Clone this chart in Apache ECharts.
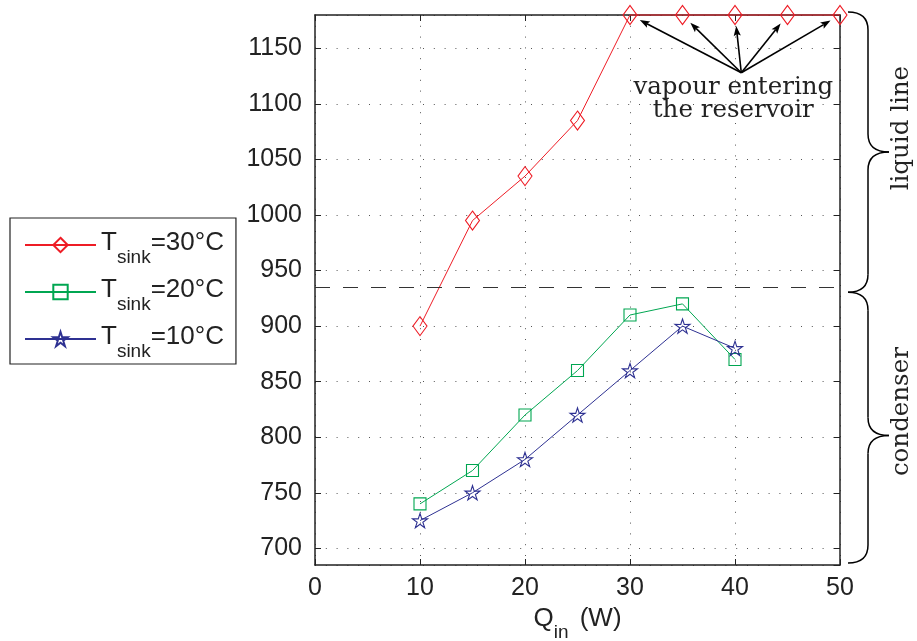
<!DOCTYPE html>
<html><head><meta charset="utf-8">
<script src="https://cdn.jsdelivr.net/npm/echarts@6/dist/echarts.min.js"></script>
<style>html,body{margin:0;padding:0;background:#fff}#c{width:917px;height:641px}</style>
</head><body><div id="c"></div>
<script>
// ---- data ----
const qIn = [10, 15, 20, 25, 30, 35, 40, 45, 50];
const tSink30 = [900, 995, 1035, 1085, 1180, 1180, 1180, 1180, 1180];
const tSink20 = [740, 770, 820, 860, 910, 920, 870];
const tSink10 = [725, 750, 780, 820, 860, 900, 880];
const seriesNames = ['Tsink=30°C', 'Tsink=20°C', 'Tsink=10°C'];
const legendTemps = ['30', '20', '10'];
const xRange = [0, 50];
const yRange = [685, 1180];
const dividerLevel = 935;
const vapourQ = [30, 35, 40, 45, 50];
const arrowSource = [40.6, 1128];
const annotationLines = ['vapour entering', 'the reservoir'];
const braceLabels = ['liquid line', 'condenser'];

const SANS = 'Liberation Sans';
const SERIF = 'DejaVu Serif';
const INK = '#222';
const RED = '#ee1c25', GREEN = '#00a651', BLUE = '#2e3192';
const STAR = 'path://M50 0 L61.17 34.63 L97.55 34.55 L68.07 55.87 L79.39 90.45 L50 69 L20.61 90.45 L31.93 55.87 L2.45 34.55 L38.83 34.63 Z';

const pairs = (ys) => ys.map((y, i) => [qIn[i], y]);
const tempOf = {};
seriesNames.forEach((n, i) => tempOf[n] = legendTemps[i]);

const richT = {
  t: { fontFamily: SANS, fontSize: 26, lineHeight: 30, verticalAlign: 'top', color: INK },
  s: { fontFamily: SANS, fontSize: 19, lineHeight: 22, padding: [18, 0, 0, 0], verticalAlign: 'top', color: INK }
};
const richQ = {
  t: { fontFamily: SANS, fontSize: 26, lineHeight: 30, verticalAlign: 'top', color: INK },
  s: { fontFamily: SANS, fontSize: 19, lineHeight: 22, padding: [17, 4, 0, 0], verticalAlign: 'top', color: INK }
};

const axisLine = { show: true, onZero: false, lineStyle: { color: INK, width: 1.5 } };
const axisTick = { show: true, inside: true, length: 6, lineStyle: { color: INK, width: 1 } };
const grid = { show: true, lineStyle: { color: '#555', width: 1, type: [1, 9.8] } };
const lbl = { fontFamily: SANS, fontSize: 25, color: INK, formatter: (v) => String(v) };

const chart = echarts.init(document.getElementById('c'), null, { renderer: 'canvas' });
const mk = (name, data, color, symbol, size) => ({
  name, type: 'line', data, xAxisIndex: 0, yAxisIndex: 0, clip: false,
  symbol, symbolSize: size, symbolKeepAspect: true,
  lineStyle: { color, width: 1 },
  itemStyle: { color: 'rgba(255,255,255,0)', borderColor: color, borderWidth: 1.1 },
  emphasis: { disabled: true }, animation: false, z: 3
});

chart.setOption({
  animation: false,
  grid: { left: 315, right: 77, top: 15, bottom: 76, containLabel: false, outerBoundsMode: 'none' },
  xAxis: [
    { type: 'value', min: xRange[0], max: xRange[1], interval: 10, position: 'bottom',
      axisLine, axisTick, splitLine: grid, axisLabel: { ...lbl, margin: 11 },
      name: '{t|Q}{s|in}{t| (W)}', nameLocation: 'middle', nameGap: 40,
      nameTextStyle: { rich: richQ } },
    { type: 'value', min: xRange[0], max: xRange[1], interval: 10, position: 'top',
      axisLine, axisTick, splitLine: { show: false }, axisLabel: { show: false } }
  ],
  yAxis: [
    { type: 'value', min: yRange[0], max: yRange[1], splitNumber: 10, position: 'left',
      axisLine, axisTick, splitLine: grid,
      axisLabel: { ...lbl, margin: 13, showMinLabel: false, showMaxLabel: false } },
    { type: 'value', min: yRange[0], max: yRange[1], splitNumber: 10, position: 'right',
      axisLine, axisTick, splitLine: { show: false }, axisLabel: { show: false } }
  ],
  legend: {
    orient: 'vertical', left: 10, top: 218, padding: [12, 12, 3, 14], itemGap: 10,
    itemWidth: 71, itemHeight: 18, backgroundColor: '#fff',
    borderColor: INK, borderWidth: 1.2, borderRadius: 0,
    data: seriesNames,
    formatter: (n) => `{t|T}{s|sink}{t|=${tempOf[n]}°C}`,
    textStyle: { rich: richT }
  },
  series: [
    { ...mk(seriesNames[0], pairs(tSink30), RED, 'diamond', [14, 19]),
      markLine: { silent: true, symbol: 'none', animation: false,
        label: { show: false },
        lineStyle: { color: '#333', width: 1, type: [15, 13] },
        data: [{ yAxis: dividerLevel }] } },
    mk(seriesNames[1], pairs(tSink20), GREEN, 'rect', 12),
    mk(seriesNames[2], pairs(tSink10), BLUE, STAR, 15)
  ]
});

// ---- annotations from axis scales ----
const px = (v) => chart.convertToPixel({ seriesIndex: 0 }, v);
const g = [];
const src = px(arrowSource);
vapourQ.forEach((q) => {
  const p = px([q, yRange[1]]);
  const dx = src[0] - p[0], dy = src[1] - p[1], L = Math.hypot(dx, dy);
  const ux = dx / L, uy = dy / L, nx = -uy, ny = ux;
  const tip = [p[0] + ux * 11, p[1] + uy * 11];
  const base = [tip[0] + ux * 10, tip[1] + uy * 10];
  g.push({ type: 'line', shape: { x1: src[0], y1: src[1], x2: base[0] - ux * 2, y2: base[1] - uy * 2 },
    style: { stroke: '#000', lineWidth: 1.6 }, z: 10 });
  g.push({ type: 'polygon', shape: { points: [tip, [base[0] + nx * 3.6, base[1] + ny * 3.6], [base[0] - ux * 2, base[1] - uy * 2], [base[0] - nx * 3.6, base[1] - ny * 3.6]] },
    style: { fill: '#000' }, z: 10 });
});
annotationLines.forEach((t, i) => {
  g.push({ type: 'text', x: src[0] - 8, y: src[1] + 15 + i * 23,
    style: { text: t, font: `24.5px "${SERIF}"`, fill: INK, align: 'center', verticalAlign: 'middle' }, z: 10 });
});

function braceParts(xl, y0, y1, ym) {
  const xv = xl + 20, xt = xl + 41, r = 18;
  const st = { stroke: '#000', fill: null, lineWidth: 1.5 };
  const q = (x1, y1, cx, cy, x2, y2) => ({ type: 'bezierCurve', shape: { x1, y1, x2, y2, cpx1: cx, cpy1: cy }, style: st, z: 10 });
  const l = (x1, y1, x2, y2) => ({ type: 'line', shape: { x1, y1, x2, y2 }, style: st, z: 10 });
  return [
    q(xl, y0, xv, y0, xv, y0 + r),
    l(xv, y0 + r, xv, ym - r),
    q(xv, ym - r, xv, ym, xt, ym),
    q(xt, ym, xv, ym, xv, ym + r),
    l(xv, ym + r, xv, y1 - r),
    q(xv, y1 - r, xv, y1, xl, y1)
  ];
}
const right = px([xRange[1], yRange[1]])[0];
const yTop = px([0, yRange[1]])[1] - 3;
const ySplit = px([0, dividerLevel])[1] + 5;
const yBot = px([0, yRange[0]])[1] - 2;
const braces = [[yTop, ySplit, (yTop + ySplit) / 2], [ySplit, yBot, (ySplit + yBot) / 2 + 8]];
braces.forEach((b, i) => {
  g.push(...braceParts(right + 8, b[0], b[1], b[2]));
  g.push({ type: 'text', x: right + 62, y: b[2] - 24, rotation: Math.PI / 2,
    style: { text: braceLabels[i], font: `24.5px "${SERIF}"`, fill: INK, align: 'center', verticalAlign: 'middle' }, z: 10 });
});
chart.setOption({ graphic: g });
</script>
</body></html>
